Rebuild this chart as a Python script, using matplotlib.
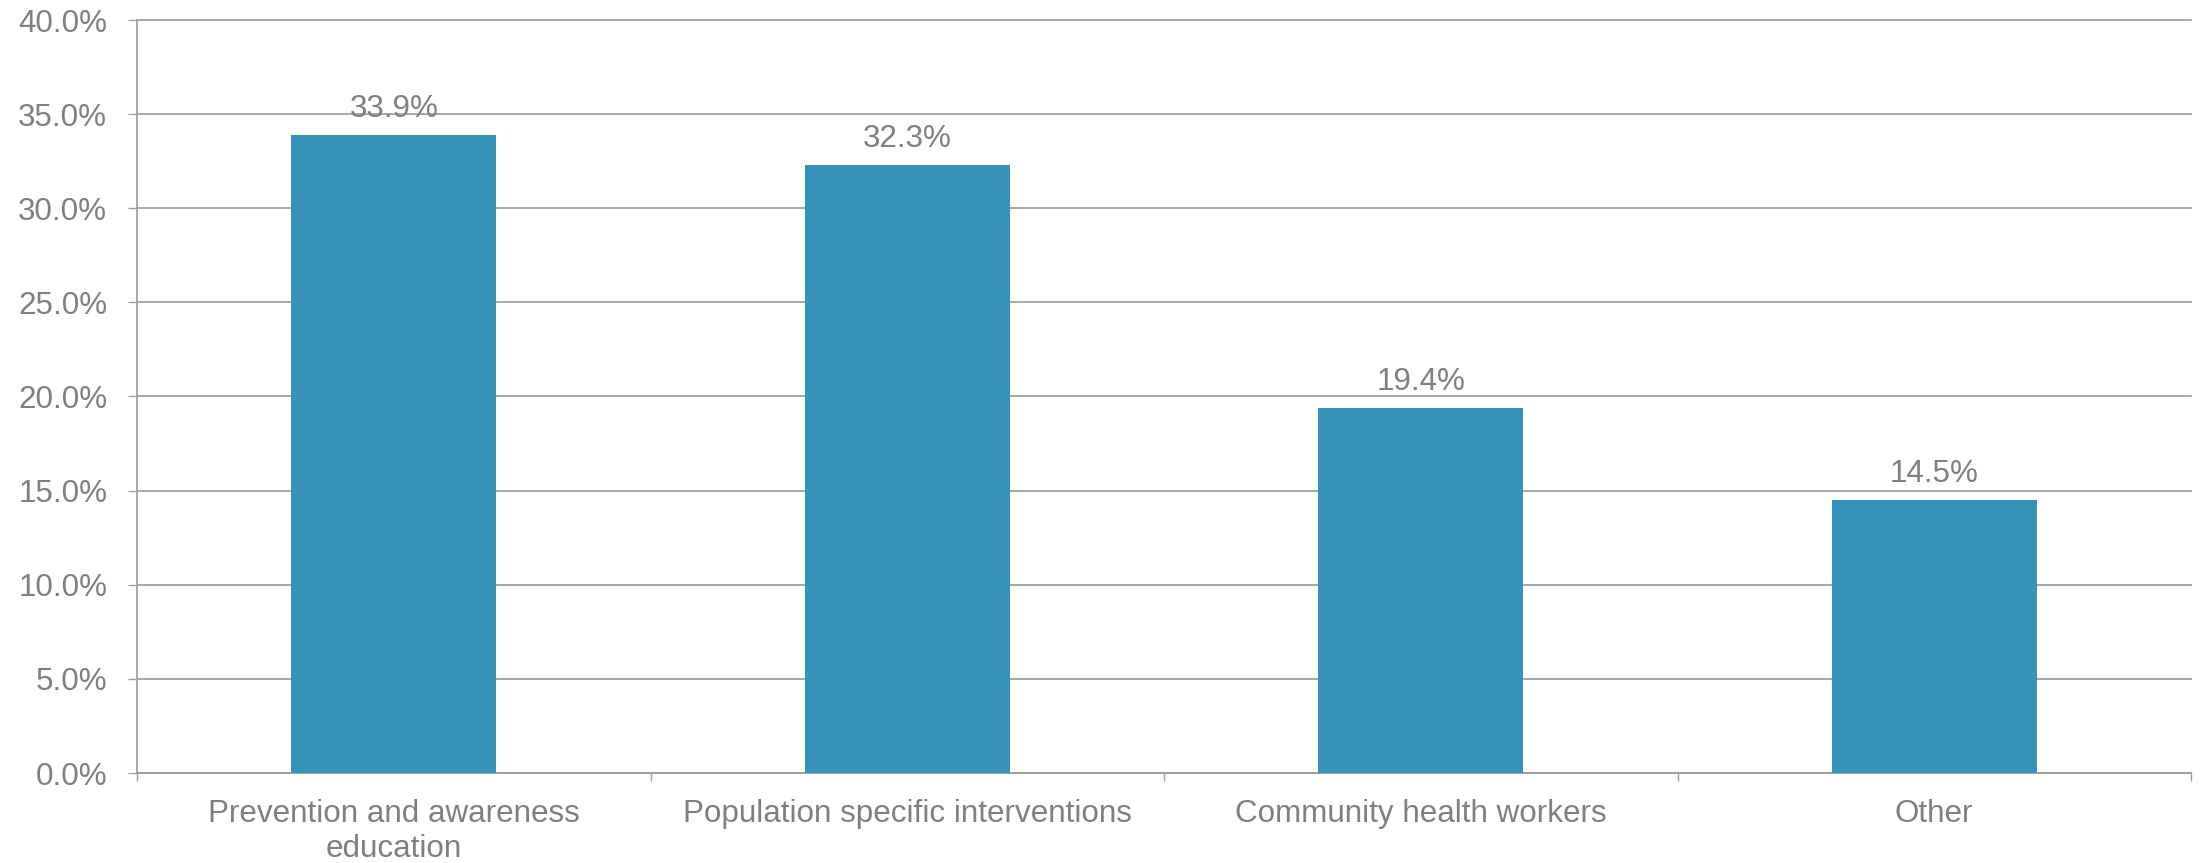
import matplotlib
matplotlib.use("Agg")
import matplotlib.pyplot as plt
import numpy as np

categories = ["Prevention and awareness\neducation", "Population specific interventions",
              "Community health workers", "Other"]
values = [33.9, 32.3, 19.4, 14.5]
value_labels = ["33.9%", "32.3%", "19.4%", "14.5%"]
y_ticks = [0, 5, 10, 15, 20, 25, 30, 35, 40]
y_tick_labels = ["0.0%", "5.0%", "10.0%", "15.0%", "20.0%", "25.0%", "30.0%", "35.0%", "40.0%"]

plt.rcParams['font.family'] = ['Liberation Sans', 'DejaVu Sans']
TEXT = '#7F7F7F'
GRID = '#A0A0A0'
BAR = '#3593BA'
FS = 22.6

fig = plt.figure(figsize=(22.01, 8.63), dpi=100)
ax = fig.add_axes([137/2201, 90/863, (2191-137)/2201, (773-20)/863])

x = np.arange(len(categories))
ax.bar(x, values, width=0.4, color=BAR, zorder=3)

for xi, v, lab in zip(x, values, value_labels):
    ax.annotate(lab, (xi, v), xytext=(0, 13), textcoords='offset points',
                ha='center', va='baseline', fontsize=FS, color=TEXT, zorder=4)

ax.set_xlim(-0.5, len(categories) - 0.5)
ax.set_ylim(0, 40)
ax.set_yticks(y_ticks)
ax.set_yticklabels(y_tick_labels)
ax.set_xticks(x)
ax.set_xticklabels(categories)
ax.set_xticks(np.arange(-0.5, len(categories), 1.0), minor=True)

ax.yaxis.grid(True, color=GRID, linewidth=1.3, zorder=0)
ax.set_axisbelow(True)
for gl in ax.yaxis.get_gridlines():
    gl.set_clip_on(False)

for side in ['top', 'right']:
    ax.spines[side].set_visible(False)
for side in ['left', 'bottom']:
    ax.spines[side].set_color(GRID)
    ax.spines[side].set_linewidth(1.3)

ax.tick_params(axis='y', length=6.5, width=1.0, color=GRID, pad=15,
               labelsize=FS, labelcolor=TEXT)
ax.tick_params(axis='x', which='major', length=0, pad=19,
               labelsize=FS, labelcolor=TEXT)
ax.tick_params(axis='x', which='minor', length=6, width=1.0, color=GRID)

fig.savefig("out.png", dpi=100, facecolor='white')
